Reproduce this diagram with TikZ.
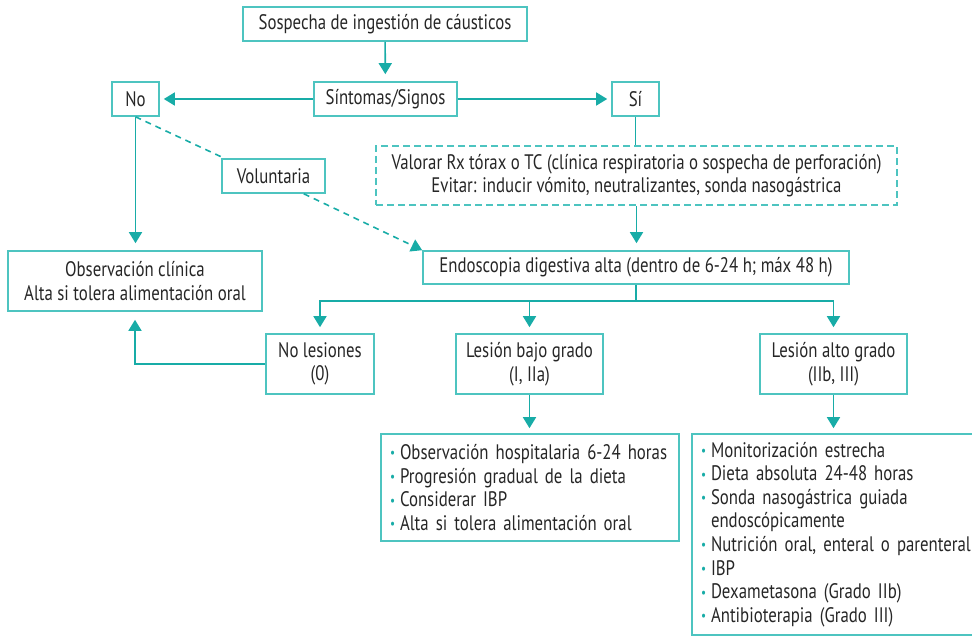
\documentclass[tikz,border=0pt]{standalone}
\usepackage{fontspec}
\setmainfont[FakeStretch=0.8]{PT Sans}
\usetikzlibrary{arrows.meta}
\definecolor{boxc}{RGB}{77,196,192}
\definecolor{arrc}{RGB}{24,172,167}
\definecolor{txtc}{RGB}{38,38,38}
\newcommand\bul{\makebox[10pt][l]{\textcolor{arrc}{\raisebox{0.15ex}{\fontsize{14}{14}\selectfont •}}}}
\begin{document}
\begin{tikzpicture}[x=1pt,y=-1pt,
  font=\fontsize{21}{23.6}\selectfont,
  bx/.style={draw=boxc, line width=1.6pt, inner sep=0pt, align=center, text=txtc},
  dbox/.style={dash pattern=on 7pt off 4pt},
  ln/.style={draw=arrc, line width=1.6pt},
  arr/.style={ln, -{Triangle[width=13pt,length=11pt]}},
  dln/.style={ln, dash pattern=on 6pt off 5pt},
]
\useasboundingbox (0,0) rectangle (972,636);
\clip (0,0) rectangle (972,636);

\node[bx, minimum width=284pt, minimum height=34pt] (sos) at (385,24) {Sospecha de ingestión de cáusticos};
\node[bx, minimum width=143pt, minimum height=34pt] (sin) at (385.5,99) {Síntomas/Signos};
\node[bx, minimum width=47pt, minimum height=34pt] (no) at (135.5,99) {No};
\node[bx, minimum width=47pt, minimum height=34pt] (si) at (635.5,99) {Sí};
\node[bx, dbox, minimum width=521pt, minimum height=59pt] (val) at (636.5,175.5)
  {Valorar Rx tórax o TC (clínica respiratoria o sospecha de perforación)\\Evitar: inducir vómito, neutralizantes, sonda nasogástrica};
\node[bx, minimum width=103pt, minimum height=34pt] (vol) at (273.5,176) {Voluntaria};
\node[bx, minimum width=426pt, minimum height=33pt] (endo) at (636,267.5) {Endoscopia digestiva alta (dentro de 6-24 h; máx 48 h)};
\node[bx, minimum width=254pt, minimum height=60pt] (obs) at (135,281) {Observación clínica\\Alta si tolera alimentación oral};
\node[bx, minimum width=108pt, minimum height=60pt] (nol) at (320,364) {No lesiones\\(0)};
\node[bx, minimum width=147pt, minimum height=60pt] (baj) at (529.5,364) {Lesión bajo grado\\(I, IIa)};
\node[bx, minimum width=147pt, minimum height=60pt] (alt) at (833.5,364) {Lesión alto grado\\(IIb, III)};
\node[bx, minimum width=298pt, minimum height=107pt, text width=280pt, align=left] (bajl) at (530,487.5)
  {\bul Observación hospitalaria 6-24 horas\\
   \bul Progresión gradual de la dieta\\
   \bul Considerar IBP\\
   \bul Alta si tolera alimentación oral};
\node[bx, minimum width=310pt, minimum height=201pt, text width=292pt, align=left] (altl) at (847,534.5)
  {\bul Monitorización estrecha\\
   \bul Dieta absoluta 24-48 horas\\
   \bul Sonda nasogástrica guiada\\
   \hspace*{10pt}endoscópicamente\\
   \bul Nutrición oral, enteral o parenteral\\
   \bul IBP\\
   \bul Dexametasona (Grado IIb)\\
   \bul Antibioterapia (Grado III)};

\draw[arr, shorten >=7pt] (sos) -- (sin);
\draw[arr, shorten >=4pt] (sin) -- (no);
\draw[arr, shorten >=4pt] (sin) -- (si);
\draw[ln] (si.south) -- (si.south |- val.north);
\draw[arr, shorten >=7pt] (val.south) -- (val.south |- endo.north);
\draw[arr, shorten >=7pt] (no.south) -- (no.south |- obs.north);
\draw[dln] (no.south) -- ([xshift=3pt]vol.north west);
\draw[dln, -{Triangle[width=13pt,length=11pt]}] ([xshift=-22pt]vol.south east) -- (endo.north west);

\draw[ln] (endo.south) -- ++(0,16) coordinate (br);
\draw[ln, line cap=rect] (br -| nol) -- (br -| alt);
\draw[arr, shorten >=6pt] (br -| nol) -- (nol.north);
\draw[arr, shorten >=6pt] (br -| baj) -- (baj.north);
\draw[arr, shorten >=6pt] (br -| alt) -- (alt.north);
\draw[arr, shorten >=8pt] (nol.west) -| (obs.south);
\draw[arr, shorten >=5pt] (baj.south) -- (baj.south |- bajl.north);
\draw[arr, shorten >=5pt] (alt.south) -- (alt.south |- altl.north);
\end{tikzpicture}
\end{document}
